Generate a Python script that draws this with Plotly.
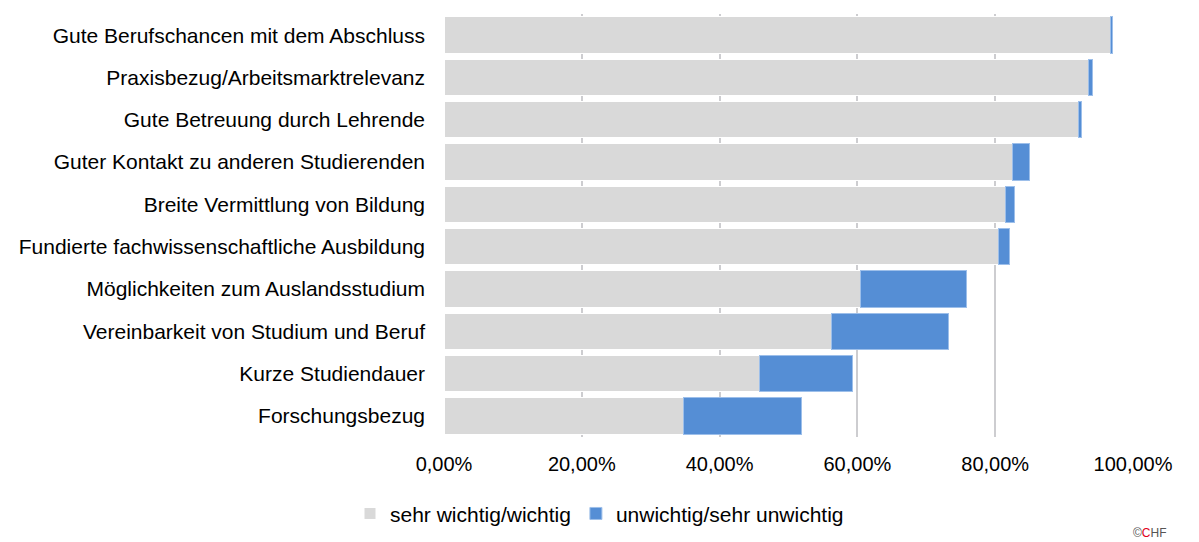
import plotly.graph_objects as go

# Anteile je Kriterium (von oben nach unten)
kriterien = [
    "Gute Berufschancen mit dem Abschluss",
    "Praxisbezug/Arbeitsmarktrelevanz",
    "Gute Betreuung durch Lehrende",
    "Guter Kontakt zu anderen Studierenden",
    "Breite Vermittlung von Bildung",
    "Fundierte fachwissenschaftliche Ausbildung",
    "Möglichkeiten zum Auslandsstudium",
    "Vereinbarkeit von Studium und Beruf",
    "Kurze Studiendauer",
    "Forschungsbezug",
]
wichtig = [0.967, 0.935, 0.921, 0.825, 0.815, 0.805, 0.605, 0.563, 0.458, 0.347]
unwichtig = [0.003, 0.006, 0.004, 0.025, 0.013, 0.016, 0.153, 0.169, 0.135, 0.172]

grau = "#D9D9D9"
blau = "#558ED5"

fig = go.Figure()
fig.add_trace(go.Bar(
    y=kriterien, x=wichtig, orientation="h", name="sehr wichtig/wichtig",
    marker=dict(color=grau, line=dict(color="white", width=1)),
))
fig.add_trace(go.Bar(
    y=kriterien, x=unwichtig, orientation="h", name="unwichtig/sehr unwichtig",
    marker=dict(color=blau, line=dict(color="#9DBFEA", width=1)),
))

fig.update_layout(
    barmode="stack",
    bargap=0.14,
    width=1199, height=542,
    margin=dict(l=444, r=66, t=14, b=105, autoexpand=False),
    paper_bgcolor="white", plot_bgcolor="white",
    separators=",.",
    font=dict(family="Liberation Sans, Arial, sans-serif", size=20, color="black"),
    legend=dict(
        orientation="h", xref="container", yref="container",
        x=0.5, xanchor="center", y=0.052, yanchor="middle",
        font=dict(size=21), traceorder="normal", itemwidth=30,
    ),
    showlegend=True,
)
fig.update_xaxes(
    range=[0, 1], tickvals=[0, 0.2, 0.4, 0.6, 0.8, 1.0], tickformat=".2%",
    showgrid=True, gridcolor="#CDCDD0", gridwidth=2, zeroline=False,
    showline=False, ticks="", ticklabelstandoff=13, automargin=False,
    tickfont=dict(size=20),
)
fig.update_yaxes(
    autorange="reversed", showgrid=False, showline=False, ticks="",
    ticklabelstandoff=18, automargin=False, tickfont=dict(size=21),
)

# kleines Logo unten rechts
fig.add_annotation(
    xref="paper", yref="paper", x=0.997, y=-0.227, xanchor="left", yanchor="middle",
    showarrow=False,
    text="<span style='color:#555'>©</span><span style='color:#E2001A'>C</span><span style='color:#555'>HF</span>",
    font=dict(size=12),
)

# Seitenrand entfernen, damit die Grafik genau im Fenster sitzt
fig.write_html("out.html", config={"displayModeBar": False},
               post_script="document.body.style.margin='0';")
